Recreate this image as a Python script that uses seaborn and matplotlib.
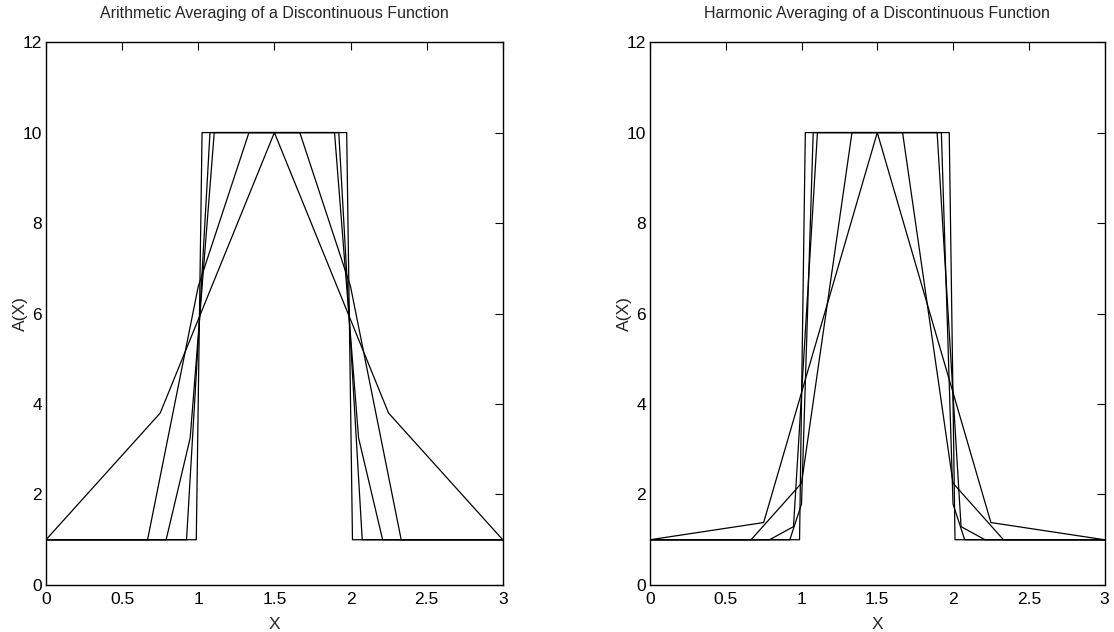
import pandas as pd
import matplotlib
matplotlib.use("Agg")
import matplotlib.pyplot as plt
import seaborn as sns

# vertices of each curve (x, A(x)); grids of 5, 10, 20, 40, 80 points
x_n5 = [0, 0.75, 1.5, 2.25, 3]
x_n10 = [0, 0.667, 1.0, 1.333, 1.667, 2.0, 2.333, 3]
x_n20 = [0, 0.789, 0.947, 1.105, 1.895, 2.053, 2.211, 3]
x_n40 = [0, 0.923, 1.0, 1.077, 1.923, 2.0, 2.077, 3]
x_n80 = [0, 0.987, 1.025, 1.975, 2.013, 3]

arith_n5 = [1, 3.8, 10, 3.8, 1]
arith_n10 = [1, 1, 6.6, 10, 10, 6.6, 1, 1]
arith_n20 = [1, 1, 3.25, 10, 10, 3.25, 1, 1]
arith_n40 = [1, 1, 5.4, 10, 10, 5.4, 1, 1]
arith_n80 = [1, 1, 10, 10, 1, 1]

harm_n5 = [1, 1.38, 10, 1.38, 1]
harm_n10 = [1, 1, 2.25, 10, 10, 2.25, 1, 1]
harm_n20 = [1, 1, 1.29, 10, 10, 1.29, 1, 1]
harm_n40 = [1, 1, 1.79, 10, 10, 1.79, 1, 1]
harm_n80 = [1, 1, 10, 10, 1, 1]

xs = [x_n5, x_n10, x_n20, x_n40, x_n80]
arith = [arith_n5, arith_n10, arith_n20, arith_n40, arith_n80]
harm = [harm_n5, harm_n10, harm_n20, harm_n40, harm_n80]

titles = ["Arithmetic Averaging of a Discontinuous Function",
          "Harmonic Averaging of a Discontinuous Function"]
xticks = [0, 0.5, 1, 1.5, 2, 2.5, 3]
xticklabels = ["0", "0.5", "1", "1.5", "2", "2.5", "3"]
yticks = [0, 2, 4, 6, 8, 10, 12]

sns.set_style("white")
plt.rcParams["font.family"] = ["Liberation Sans Narrow", "Liberation Sans", "DejaVu Sans"]


def long_frame(xlists, ylists):
    rows = []
    for k, (xv, yv) in enumerate(zip(xlists, ylists)):
        for i, (a, b) in enumerate(zip(xv, yv)):
            rows.append({"curve": k, "order": i, "x": a, "A": b})
    return pd.DataFrame(rows)


fig = plt.figure(figsize=(11.14, 6.32), dpi=100)
ax1 = fig.add_axes([0.0413, 0.0744, 0.410, 0.859])
ax2 = fig.add_axes([0.5835, 0.0744, 0.408, 0.859])

for ax, ys, title in zip([ax1, ax2], [arith, harm], titles):
    df = long_frame(xs, ys)
    sns.lineplot(data=df, x="x", y="A", units="curve", estimator=None,
                 sort=False, color="black", linewidth=0.9, ax=ax, legend=False)
    ax.set_xlim(0, 3)
    ax.set_ylim(0, 12)
    ax.set_xticks(xticks)
    ax.set_xticklabels(xticklabels)
    ax.set_yticks(yticks)
    ax.tick_params(direction="in", length=6, width=0.8, top=True, right=True,
                   labelsize=12.5, colors="black")
    ax.tick_params(axis="x", pad=5)
    ax.tick_params(axis="y", pad=3)
    for s in ax.spines.values():
        s.set_visible(True)
        s.set_color("black")
        s.set_linewidth(1.0)
    ax.set_title(title, fontsize=11.5, pad=17)
    ax.set_xlabel("X", fontsize=12.5, labelpad=7)
    ax.set_ylabel("A(X)", fontsize=12.5, labelpad=-4)

fig.savefig("out.png", dpi=100)
